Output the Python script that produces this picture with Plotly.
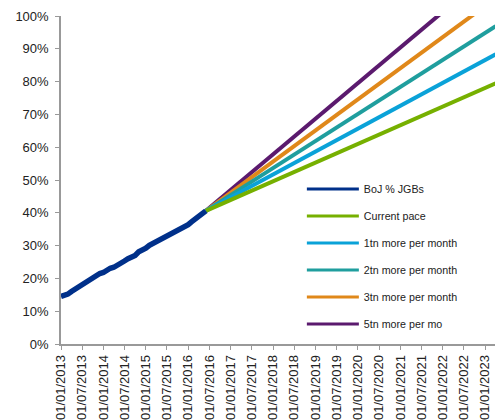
import plotly.graph_objects as go

# BoJ holdings of JGBs as a share of the outstanding stock (monthly, %)
boj_dates = [
    "2013-01-01", "2013-02-01", "2013-03-01", "2013-04-01", "2013-05-01", "2013-06-01",
    "2013-07-01", "2013-08-01", "2013-09-01", "2013-10-01", "2013-11-01", "2013-12-01",
    "2014-01-01", "2014-02-01", "2014-03-01", "2014-04-01", "2014-05-01", "2014-06-01",
    "2014-07-01", "2014-08-01", "2014-09-01", "2014-10-01", "2014-11-01", "2014-12-01",
    "2015-01-01", "2015-02-01", "2015-03-01", "2015-04-01", "2015-05-01", "2015-06-01",
    "2015-07-01", "2015-08-01", "2015-09-01", "2015-10-01", "2015-11-01", "2015-12-01",
    "2016-01-01", "2016-02-01", "2016-03-01", "2016-04-01", "2016-05-01", "2016-06-01",
]
boj_share = [
    14.5, 14.7, 15.2, 16.0, 16.7, 17.5,
    18.3, 18.9, 19.7, 20.4, 21.1, 21.5,
    21.8, 22.7, 23.1, 23.4, 23.9, 24.4,
    25.3, 26.0, 26.3, 27.0, 28.1, 28.5,
    29.2, 30.1, 30.6, 31.1, 31.7, 32.3,
    32.8, 33.4, 33.9, 34.4, 35.0, 35.5,
    36.4, 37.3, 38.0, 38.8, 39.7, 40.6,
]

# Projection scenarios: start and end point of each path
proj_dates = ["2016-06-01", "2023-04-01"]
proj_current = [40.6, 79.5]
proj_1tn = [40.6, 88.3]
proj_2tn = [40.6, 96.9]
proj_3tn = [40.6, 105.4]
proj_5tn = [40.6, 114.8]

# Axis tick labels (every six months)
tick_dates = [f"{y}-{m:02d}-01" for y in range(2013, 2024) for m in (1, 7)][:-1]
tick_text = [f"01/{m}/{y}" for y in range(2013, 2024) for m in ("01", "07")][:-1]
y_ticks = [0, 10, 20, 30, 40, 50, 60, 70, 80, 90, 100]
y_text = [f"{v}%" for v in y_ticks]

series = [
    ("BoJ % JGBs", boj_dates, boj_share, "#00308a", 5.5),
    ("Current pace", proj_dates, proj_current, "#76b000", 4),
    ("1tn more per month", proj_dates, proj_1tn, "#0aa2d8", 4),
    ("2tn more per month", proj_dates, proj_2tn, "#1f9e9e", 4),
    ("3tn more per month", proj_dates, proj_3tn, "#e0881a", 4),
    ("5tn more per mo", proj_dates, proj_5tn, "#5b1a6e", 4),
]

fig = go.Figure()
# projections first so the actual series is drawn on top
for name, xs, ys, color, w in reversed(series):
    fig.add_trace(go.Scatter(
        x=xs, y=ys, mode="lines", name=name, showlegend=False,
        line=dict(color=color, width=w),
    ))

# legend entries drawn with a thinner key line
for i, (name, xs, ys, color, w) in enumerate(series):
    fig.add_trace(go.Scatter(
        x=[None], y=[None], mode="lines", name=name,
        line=dict(color=color, width=3),
        legendgroup=f"g{i}", legendrank=i,
    ))

axis_col = "#999999"
font_col = "#222222"
fig.update_layout(
    width=495, height=420,
    margin=dict(l=61, r=0, t=16, b=74),
    paper_bgcolor="white", plot_bgcolor="white",
    font=dict(family="Liberation Sans, Arial, sans-serif", size=13, color=font_col),
    showlegend=True,
    legend=dict(
        x=0.555, y=0.517, xanchor="left", yanchor="top",
        bgcolor="rgba(0,0,0,0)", itemwidth=52,
        tracegroupgap=8, font=dict(size=10.7, color=font_col),
    ),
    xaxis=dict(
        type="date", range=["2013-01-01", "2023-03-26"],
        tickmode="array", tickvals=tick_dates, ticktext=tick_text,
        tickangle=-90, ticks="outside", ticklen=4, tickcolor=axis_col,
        showline=True, linecolor=axis_col, linewidth=1.5,
        showgrid=False, zeroline=False,
        tickfont=dict(size=13, color=font_col),
    ),
    yaxis=dict(
        range=[0, 100], tickmode="array", tickvals=y_ticks, ticktext=y_text,
        ticks="outside", ticklen=4, tickcolor=axis_col,
        ticklabelstandoff=4,
        showline=True, linecolor=axis_col, linewidth=1.5,
        showgrid=False, zeroline=False,
        tickfont=dict(size=13, color=font_col),
    ),
)

fig.write_html("out.html")
